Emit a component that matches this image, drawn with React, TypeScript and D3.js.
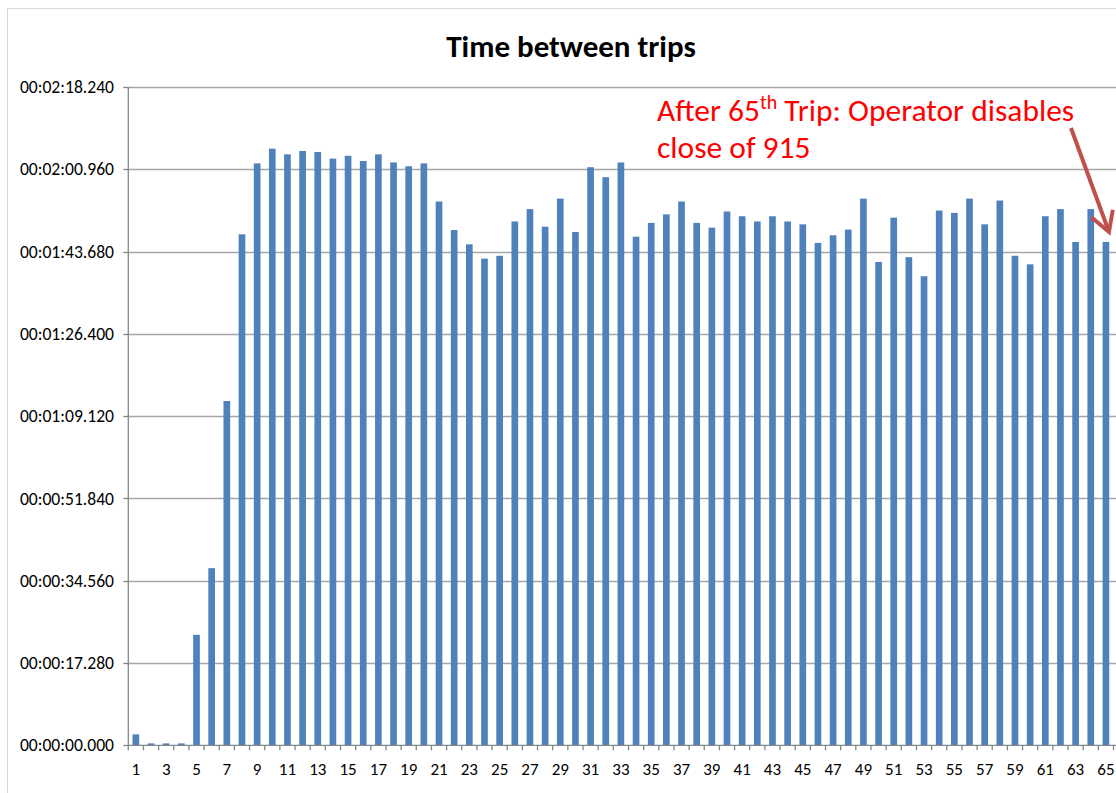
import React from "react";
import * as d3 from "d3";

// trip number (x categories)
const trips = d3.range(1, 66);

// seconds between trips
const secondsBetween = [
  2.3, 0.4, 0.4, 0.4, 23.2, 37.2, 72.3, 107.3, 122.2, 125.3,
  124.1, 124.8, 124.6, 123.2, 123.8, 122.7, 124.1, 122.4, 121.6, 122.2,
  114.2, 108.2, 105.2, 102.2, 102.8, 110.0, 112.6, 108.9, 114.8, 107.8,
  121.4, 119.3, 122.4, 106.8, 109.7, 111.5, 114.2, 109.7, 108.7, 112.1,
  111.1, 110.0, 111.1, 110.0, 109.4, 105.5, 107.1, 108.3, 114.8, 101.5,
  110.8, 102.5, 98.5, 112.3, 111.8, 114.8, 109.4, 114.4, 102.8, 101.0,
  111.1, 112.6, 105.7, 112.6, 105.7,
];

// y ticks in seconds (Excel's 17.28 s steps)
const yTickSeconds = [0, 17.28, 34.56, 51.84, 69.12, 86.4, 103.68, 120.96, 138.24];

// x labels: every other trip
const xLabelTrips = trips.filter((t) => t % 2 === 1);

const FONT = "Carlito, Calibri, Lato, sans-serif";

function fmtTime(sec: number) {
  const ms = Math.round(sec * 1000);
  const h = Math.floor(ms / 3600000);
  const m = Math.floor((ms % 3600000) / 60000);
  const s = Math.floor((ms % 60000) / 1000);
  const r = ms % 1000;
  const p = (n: number, w = 2) => String(n).padStart(w, "0");
  return `${p(h)}:${p(m)}:${p(s)}.${p(r, 3)}`;
}

export default function App() {
  const left = 128.3;
  const right = 1113.5;
  const top = 87;
  const bottom = 745.3;

  const x = d3
    .scaleBand<number>()
    .domain(trips)
    .range([left, right])
    .paddingInner(0.56)
    .paddingOuter(0.28);
  const step = x.step();

  const y = d3.scaleLinear().domain([0, 138.24]).range([bottom, top]);

  const gridColor = "#a6a6a6";
  const axisColor = "#868686";

  return (
    <svg
      width={1116}
      height={793}
      style={{ position: "absolute", left: 0, top: 0, background: "#fff" }}
    >
      {/* chart border */}
      <rect x={7.5} y={8.5} width={1200} height={900} fill="none" stroke="#d9d9d9" />

      <text
        x={571}
        y={57}
        textAnchor="middle"
        fontFamily={FONT}
        fontWeight="bold"
        fontSize={31}
        fill="#000"
      >
        Time between trips
      </text>

      {/* gridlines */}
      {yTickSeconds.slice(1).map((t) => (
        <line
          key={"g" + t}
          x1={left}
          x2={1116}
          y1={Math.round(y(t)) + 0.5}
          y2={Math.round(y(t)) + 0.5}
          stroke={gridColor}
          strokeWidth={1.3}
        />
      ))}

      {/* bars */}
      {trips.map((t, i) => (
        <rect
          key={"b" + t}
          x={x(t)}
          y={y(secondsBetween[i])}
          width={x.bandwidth()}
          height={bottom - y(secondsBetween[i])}
          fill="#4f81bd"
        />
      ))}

      {/* y axis */}
      <line x1={left} x2={left} y1={top} y2={bottom} stroke={axisColor} strokeWidth={1.3} />
      {yTickSeconds.map((t) => (
        <g key={"yt" + t}>
          <line
            x1={left - 5}
            x2={left}
            y1={Math.round(y(t)) + 0.5}
            y2={Math.round(y(t)) + 0.5}
            stroke={axisColor}
            strokeWidth={1.3}
          />
          <text
            x={114}
            y={y(t)}
            dy="0.35em"
            textAnchor="end"
            fontFamily={FONT}
            fontSize={17.6}
            fill="#000"
          >
            {fmtTime(t)}
          </text>
        </g>
      ))}

      {/* x axis */}
      <line x1={left} x2={1116} y1={bottom} y2={bottom} stroke={axisColor} strokeWidth={1.3} />
      {d3.range(trips.length + 1).map((k) => (
        <line
          key={"xt" + k}
          x1={left + k * step}
          x2={left + k * step}
          y1={bottom}
          y2={bottom + 5}
          stroke={axisColor}
          strokeWidth={1.3}
        />
      ))}
      {xLabelTrips.map((t) => (
        <text
          key={"xl" + t}
          x={(x(t) ?? 0) + x.bandwidth() / 2}
          y={775}
          textAnchor="middle"
          fontFamily={FONT}
          fontSize={17}
          fill="#000"
        >
          {t}
        </text>
      ))}

      {/* annotation */}
      <text x={657} y={121} fontFamily={FONT} fontSize={31.5} fill="#ff0000">
        After 65
        <tspan fontSize={20} dy={-12}>th</tspan>
        <tspan dy={12}> Trip: Operator disables</tspan>
      </text>
      <text x={657} y={158} fontFamily={FONT} fontSize={31.5} fill="#ff0000">
        close of 915
      </text>

      <defs>
        <marker
          id="arrowHead"
          viewBox="0 0 10 10"
          refX={8}
          refY={5}
          markerWidth={7}
          markerHeight={7}
          orient="auto"
        >
          <path d="M1,1 L8,5 L1,9" fill="none" stroke="#c0504d" strokeWidth={1.4} />
        </marker>
      </defs>
      <line
        x1={1071}
        y1={128}
        x2={1109}
        y2={232}
        stroke="#c0504d"
        strokeWidth={4}
        markerEnd="url(#arrowHead)"
      />
    </svg>
  );
}
